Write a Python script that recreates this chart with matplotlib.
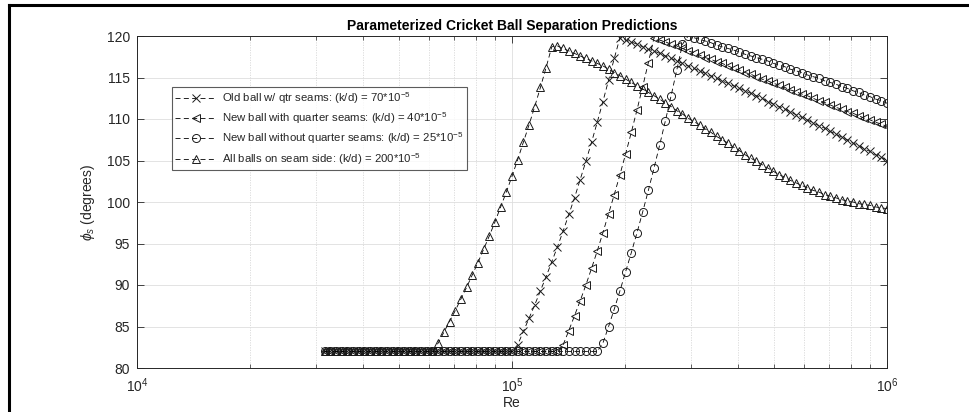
import numpy as np
import matplotlib
matplotlib.use("Agg")
import matplotlib.pyplot as plt
from matplotlib.lines import Line2D
from matplotlib.ticker import LogLocator, NullFormatter, MultipleLocator

plt.rcParams['font.family'] = ['Liberation Sans', 'DejaVu Sans']
plt.rcParams['mathtext.fontset'] = 'custom'
plt.rcParams['mathtext.rm'] = 'Liberation Sans'
plt.rcParams['mathtext.it'] = 'Liberation Sans:italic'
plt.rcParams['mathtext.bf'] = 'Liberation Sans:bold'

# ---------------- data ----------------
re_start_exp = 4.5
re_end_exp = 6.0
n_points = 100
reynolds = np.logspace(re_start_exp, re_end_exp, n_points)

old_ball_qtr = ([82.0] * 34 +
    [82.8, 84.4, 86.0, 87.6, 89.3, 91.0, 92.8, 94.6, 96.5, 98.5,
     100.5, 102.7, 104.9, 107.2, 109.6, 112.1, 114.7, 117.3, 119.8] +
    [119.5, 119.3, 119.0, 118.7, 118.4, 118.2, 117.9, 117.6, 117.3, 117.0,
     116.7, 116.4, 116.1, 115.8, 115.5, 115.2, 114.9, 114.6, 114.3, 114.0,
     113.7, 113.4, 113.1, 112.8, 112.5, 112.1, 111.8, 111.5, 111.2, 110.9,
     110.5, 110.2, 109.9, 109.5, 109.2, 108.9, 108.5, 108.2, 107.8, 107.5,
     107.1, 106.8, 106.4, 106.1, 105.7, 105.4, 105.0])

new_ball_qtr = ([82.0] * 42 +
    [82.8, 84.5, 86.3, 88.1, 90.0, 92.0, 94.1, 96.3, 98.6, 100.9,
     103.3, 105.8, 108.4, 111.1, 113.9, 116.8, 119.8] +
    [119.5, 119.3, 119.0, 118.8, 118.5, 118.2, 118.0, 117.7, 117.4, 117.2,
     116.9, 116.7, 116.4, 116.1, 115.9, 115.6, 115.4, 115.1, 114.8, 114.6,
     114.3, 114.1, 113.8, 113.5, 113.3, 113.0, 112.8, 112.5, 112.2, 112.0,
     111.7, 111.4, 111.2, 110.9, 110.7, 110.4, 110.1, 109.9, 109.6, 109.4,
     109.1])

new_ball_noqtr = ([82.0] * 49 +
    [83.0, 85.0, 87.1, 89.3, 91.6, 93.9, 96.3, 98.8, 101.4, 104.1,
     106.9, 109.8, 112.8, 115.9, 119.0, 120.0] +
    [119.8, 119.6, 119.4, 119.2, 118.9, 118.7, 118.5, 118.3, 118.1, 117.8,
     117.6, 117.4, 117.2, 117.0, 116.7, 116.5, 116.3, 116.0, 115.8, 115.6,
     115.3, 115.1, 114.9, 114.6, 114.4, 114.2, 113.9, 113.7, 113.4, 113.2,
     112.9, 112.7, 112.4, 112.2, 111.9])

all_balls_seam = ([82.0] * 20 +
    [83.0, 84.3, 85.6, 86.9, 88.3, 89.7, 91.2, 92.7, 94.3, 95.9,
     97.6, 99.4, 101.2, 103.1, 105.1, 107.2, 109.3, 111.5, 113.8, 116.2,
     118.7] +
    [118.8, 118.5, 118.2, 117.9, 117.6, 117.3, 117.0, 116.7, 116.4, 116.0,
     115.6, 115.2, 114.8, 114.4, 114.0, 113.6, 113.2, 112.8, 112.4, 111.9,
     111.5, 111.0, 110.6, 110.1, 109.7, 109.3, 108.8, 108.4, 107.9, 107.5,
     107.1, 106.6, 106.2, 105.7, 105.3, 104.9, 104.5, 104.1, 103.7, 103.3,
     103.0, 102.6, 102.3, 102.0, 101.7, 101.4, 101.2, 100.9, 100.7, 100.5,
     100.3, 100.1, 100.0, 99.8, 99.7, 99.6, 99.4, 99.3, 99.2])

series = [
    (old_ball_qtr, 'x', r'Old ball w/ qtr seams: (k/d) = 70*10$^{-5}$'),
    (new_ball_qtr, '<', r'New ball with quarter seams: (k/d) = 40*10$^{-5}$'),
    (new_ball_noqtr, 'o', r'New ball without quarter seams: (k/d) = 25*10$^{-5}$'),
    (all_balls_seam, '^', r'All balls on seam side: (k/d) = 200*10$^{-5}$'),
]

title_text = 'Parameterized Cricket Ball Separation Predictions'
xlabel_text = 'Re'
ylabel_text = r'$\phi_{s}$ (degrees)'

# ---------------- figure ----------------
W, H = 969, 412
fig = plt.figure(figsize=(W / 100, H / 100), dpi=100)
ax = fig.add_axes([137 / W, 1 - 368 / H, (887 - 137) / W, (368 - 36) / H])

axc = '#262626'
for vals, mk, lab in series:
    ax.plot(reynolds, vals, linestyle=(0, (6, 4)), color='black', lw=0.6,
            marker=mk, markersize=5.8, markerfacecolor='none',
            markeredgecolor='#1a1a1a', markeredgewidth=0.7, label=lab)

ax.set_xscale('log')
ax.set_xlim(1e4, 1e6)
ax.set_ylim(80, 120)
ax.yaxis.set_major_locator(MultipleLocator(5))
ax.xaxis.set_major_locator(LogLocator(base=10, numticks=10))
ax.xaxis.set_minor_locator(LogLocator(base=10, subs=np.arange(2, 10), numticks=20))
ax.xaxis.set_minor_formatter(NullFormatter())

ax.grid(True, which='major', color='#dedede', lw=0.6, ls='-')
ax.grid(True, which='minor', axis='x', color='#d8d8d8', lw=0.6, ls=(0, (1.5, 1.5)))
ax.set_axisbelow(True)

for s in ax.spines.values():
    s.set_color(axc)
    s.set_linewidth(0.7)
ax.tick_params(which='both', direction='in', top=True, right=True, colors=axc,
               labelsize=10)
ax.tick_params(which='major', length=5, width=0.6)
ax.tick_params(which='minor', length=3, width=0.5)
ax.tick_params(axis='y', pad=5)
ax.tick_params(axis='x', pad=6)

ax.set_title(title_text, fontsize=10, fontweight='bold', color='black', pad=4)
ax.set_xlabel(xlabel_text, fontsize=10, color=axc, labelpad=0.5)
ax.set_ylabel(ylabel_text, fontsize=10, color=axc, labelpad=7)

leg = ax.legend(loc='upper left', bbox_to_anchor=((172 - 137) / 750, (368 - 87) / 332),
                borderaxespad=0, fontsize=8.2, frameon=True, fancybox=False,
                numpoints=1, handlelength=3.6, handletextpad=0.5,
                borderpad=0.3, labelspacing=0.38)
leg.get_frame().set_edgecolor('#333333')
leg.get_frame().set_linewidth(0.8)
for t in leg.get_texts():
    t.set_color(axc)

# screenshot frame
fig.add_artist(Line2D([9 / W, 1.0], [1 - 5 / H, 1 - 5 / H], transform=fig.transFigure,
                      color='black', lw=2.2))
fig.add_artist(Line2D([9 / W, 9 / W], [0.0, 1 - 5 / H], transform=fig.transFigure,
                      color='black', lw=2.2))

fig.savefig('out.png', dpi=100)
